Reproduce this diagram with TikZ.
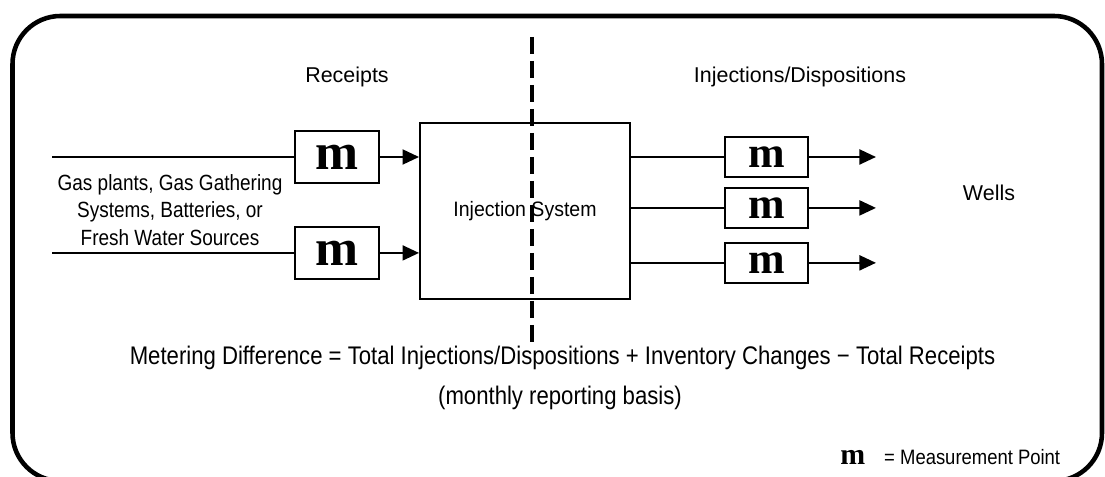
\documentclass[tikz,border=0pt]{standalone}
\usepackage{graphicx}
\usepackage{fontspec}
\setmainfont{Liberation Sans}
\newfontfamily\meterfont{Liberation Serif}
\usetikzlibrary{arrows.meta, positioning}
\newcommand{\tallText}[2][1.16]{\scalebox{1}[#1]{#2}}
\tikzstyle{meterbox} = [rectangle, draw, line width=1.1pt, minimum width=1.68cm, minimum height=1.04cm,
                        inner sep=0pt, font=\meterfont\bfseries\fontsize{29.4}{30}\selectfont]
\tikzstyle{dispbox} = [meterbox, minimum width=1.66cm, minimum height=0.8cm,
                       font=\meterfont\bfseries\fontsize{25}{26}\selectfont]
\tikzstyle{systembox} = [rectangle, draw, line width=1.1pt, minimum width=4.2cm, minimum height=3.52cm,
                         font=\fontsize{11.1}{13}\selectfont]
\tikzstyle{heading} = [anchor=base, inner sep=0pt, font=\fontsize{12.2}{14}\selectfont]
\tikzstyle{formulatext} = [anchor=base, inner sep=0pt, font=\fontsize{12.6}{14}\selectfont]
\tikzstyle{line} = [line width=1.1pt]
\tikzstyle{arrow} = [line width=1.1pt, -{Triangle[length=0.33cm, width=0.3cm]}]

\begin{document}
\begin{tikzpicture}
    \useasboundingbox (0,0) rectangle (22.1,-9.54);
    % Frame
    \draw[line width=2.6pt, rounded corners=0.96cm] (0.25,-0.32) rectangle (22.04,-9.62);

    % Divider
    \coordinate (divtop) at (10.64,-0.74);
    \coordinate (divbot) at (10.64,-6.95);
    \draw[line width=2pt, dash pattern=on 0.34cm off 0.14cm] (divtop) -- (divbot);

    % Injection system
    \node[systembox] (injection) at (10.5,-4.22) {\tallText[1.07]{Injection System}};

    % Receipts side
    \node[meterbox] (rmeter1) at (6.74,-3.14) {m};
    \node[meterbox, below=0.84cm of rmeter1] (rmeter2) {m};
    \coordinate[left=4.84cm of rmeter1.west] (src1);
    \coordinate[left=4.84cm of rmeter2.west] (src2);

    % Injections/Dispositions side
    \node[dispbox] (dmeter1) at (15.33,-3.14) {m};
    \node[dispbox, below=0.18cm of dmeter1] (dmeter2) {m};
    \node[dispbox, below=0.26cm of dmeter2] (dmeter3) {m};
    \coordinate[right=1.34cm of dmeter1.east] (well1);
    \coordinate[right=1.34cm of dmeter2.east] (well2);
    \coordinate[right=1.34cm of dmeter3.east] (well3);

    % Lines in
    \draw[line] (src1) -- (rmeter1);
    \draw[line] (src2) -- (rmeter2);
    \draw[arrow] (rmeter1) -- (rmeter1 -| injection.west);
    \draw[arrow] (rmeter2) -- (rmeter2 -| injection.west);

    % Lines out
    \draw[line] (injection.east |- dmeter1) -- (dmeter1);
    \draw[line] (injection.east |- dmeter2) -- (dmeter2);
    \draw[line] (injection.east |- dmeter3) -- (dmeter3);
    \draw[arrow] (dmeter1) -- (well1);
    \draw[arrow] (dmeter2) -- (well2);
    \draw[arrow] (dmeter3) -- (well3);

    % Labels
    \node[heading] (receipts) at (6.94,-1.66) {Receipts};
    \node[heading] (disps) at (16.0,-1.66) {Injections/Dispositions};
    \node[align=center, font=\fontsize{10.8}{15.6}\selectfont] (sources) at (3.4,-4.2)
        {\tallText{Gas plants, Gas Gathering}\\\tallText{Systems, Batteries, or}\\\tallText{Fresh Water Sources}};
    \node[font=\fontsize{12.2}{14}\selectfont] (wells) at (19.78,-3.86) {Wells};
    \node[formulatext] (formula) at (11.25,-7.3)
        {\tallText[1.15]{Metering Difference = Total Injections/Dispositions + Inventory Changes − Total Receipts}};
    \node[formulatext] (basis) at (11.2,-8.1) {\tallText[1.15]{(monthly reporting basis)}};
    \node[anchor=base west, inner sep=0pt, font=\fontsize{10.5}{12}\selectfont] (legend) at (16.8,-9.3)
        {{\meterfont\bfseries\fontsize{17}{18}\selectfont m}\hspace{0.38cm}\tallText[1.13]{= Measurement Point}};
\end{tikzpicture}
\end{document}
